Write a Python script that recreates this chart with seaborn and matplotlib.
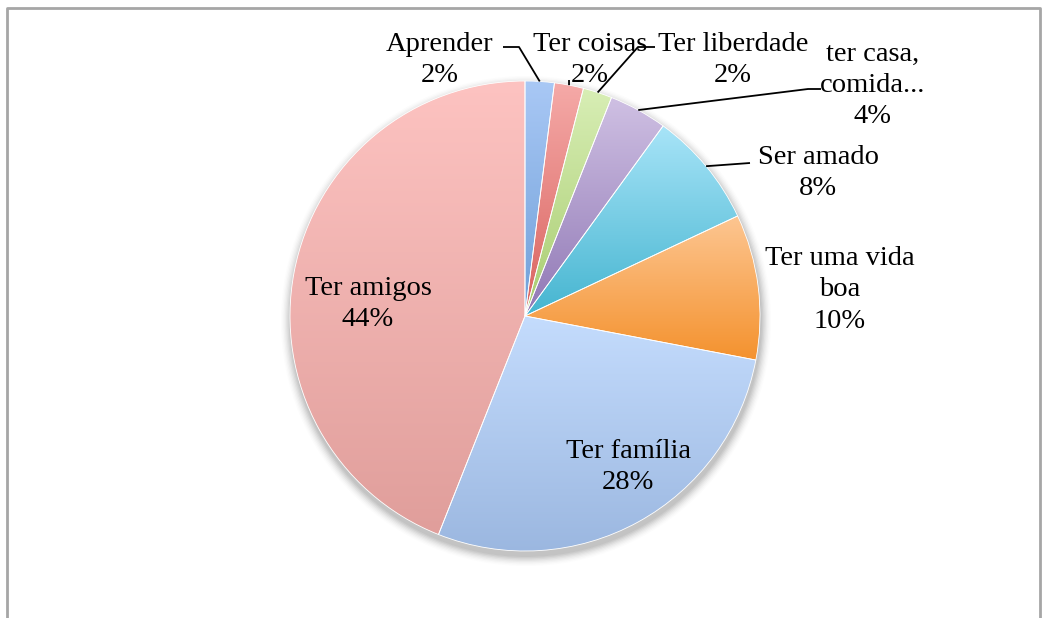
import numpy as np
import matplotlib
matplotlib.use("Agg")
import matplotlib.pyplot as plt
import seaborn as sns
from matplotlib.colors import LinearSegmentedColormap
from matplotlib.patches import Circle

categories = ["Aprender", "Ter coisas", "Ter liberdade", "ter casa,\ncomida...",
              "Ser amado", "Ter uma vida\nboa", "Ter família", "Ter amigos"]
values = [2, 2, 2, 4, 8, 10, 28, 44]
pct_labels = ["2%", "2%", "2%", "4%", "8%", "10%", "28%", "44%"]
top_colors = ["#a9c8f5", "#f5aaa8", "#d8eeb5", "#cfc0e3", "#a8e4f8", "#fdc692", "#c4dcfd", "#fdc3c1"]
bottom_colors = ["#6f9fd8", "#d9625e", "#a8cc70", "#9078b5", "#45b5d0", "#f4922e", "#9bb7e0", "#e09e9b"]

sns.set_theme(style="white")
plt.rcParams['font.family'] = ['Liberation Serif', 'DejaVu Serif']

W, H = 1042, 618
fig = plt.figure(figsize=(W / 100, H / 100), dpi=100)
ax = fig.add_axes([0, 0, 1, 1])
ax.set_xlim(0, W)
ax.set_ylim(0, H)
ax.set_aspect('equal')
ax.axis('off')

cx, cy, R = 525, H - 316, 235

# soft shadow
for i, a in enumerate(np.linspace(0.05, 0.012, 8)):
    ax.add_patch(Circle((cx + 1, cy - 5), R + 1 + i * 1.3, color="#000000", alpha=a, lw=0, zorder=1))

wedges, _ = ax.pie(values, startangle=90, counterclock=False, center=(cx, cy), radius=R,
                   frame=True, wedgeprops=dict(linewidth=0.6, edgecolor="white"))
ax.set_xlim(0, W)
ax.set_ylim(0, H)
ax.axis('off')

grad = np.linspace(1, 0, 256).reshape(-1, 1)
for w, c0, c1 in zip(wedges, top_colors, bottom_colors):
    v = w.get_path().vertices
    x0, x1 = v[:, 0].min(), v[:, 0].max()
    y0, y1 = v[:, 1].min(), v[:, 1].max()
    cmap = LinearSegmentedColormap.from_list("g", [c1, c0])
    im = ax.imshow(grad, cmap=cmap, extent=(x0, x1, y0, y1), aspect='auto', zorder=3,
                   interpolation='bilinear', origin='upper')
    im.set_clip_path(w)
    w.set_facecolor("none")
    w.set_edgecolor("white")
    w.set_zorder(4)

fs = 20.5
# label positions (pixel coords, top-origin) : center of text block
label_pos = [(440, 60), (590, 60), (733, 60), (873, 85), (818, 173), (840, 290), (628, 467), (368, 304)]
for name, pct, (lx, ly) in zip(categories, pct_labels, label_pos):
    ax.text(lx, H - ly, name + "\n" + pct, ha='center', va='center', fontsize=fs,
            linespacing=1.32, color="black", zorder=6)

# leader lines: from wedge edge to label
def edge_point(w, frac=0.5, rr=1.0):
    ang = np.deg2rad(w.theta1 + (w.theta2 - w.theta1) * frac)
    return cx + R * rr * np.cos(ang), cy + R * rr * np.sin(ang)

leaders = {
    0: [(503, 47), (519, 47)],
    1: [(569, 80)],
    2: [(655, 47), (638, 47)],
    3: [(821, 89), (808, 89)],
    4: [(750, 163)],
}
for idx, pts in leaders.items():
    ex, ey = edge_point(wedges[idx])
    xs = [p[0] for p in pts] + [ex]
    ys = [H - p[1] for p in pts] + [ey]
    ax.plot(xs, ys, color="black", lw=1.3, zorder=5, solid_capstyle='butt')

# outer frame
ax.plot([7, 7, W - 2, W - 2], [0, H - 8, H - 8, 0], color="#a6a6a6", lw=2, zorder=7)

fig.savefig("out.png", dpi=100)
